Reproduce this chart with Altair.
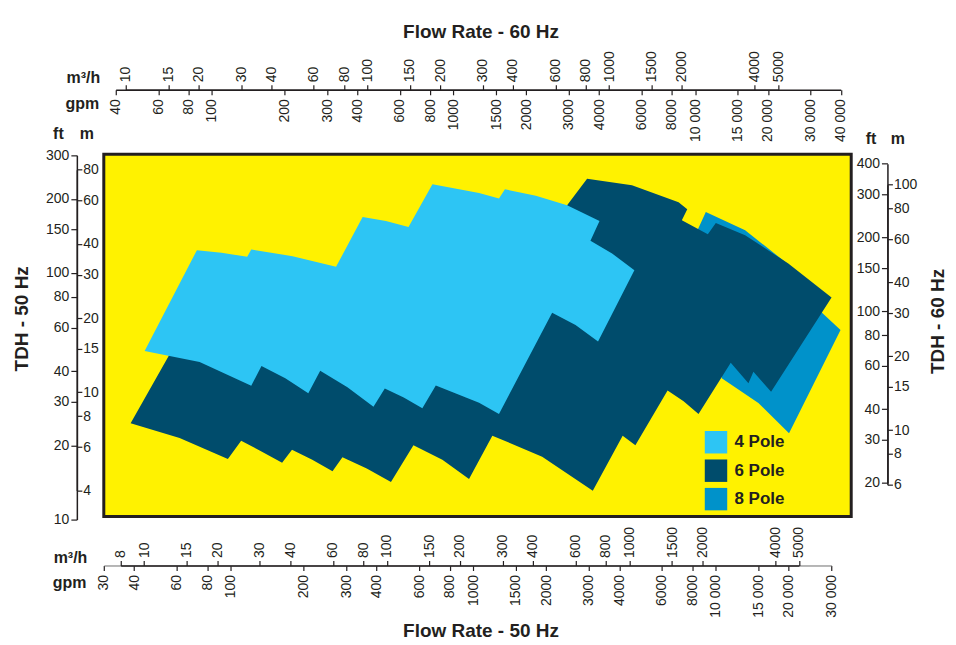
import altair as alt
import pandas as pd

# ---------------- data ----------------
# polygon outlines: flow in gpm (50 Hz) and head in ft (50 Hz)
pole4_gpm = [44.2, 72.6, 91.7, 117, 121.6, 180, 272, 350, 436.6, 541, 679, 1057, 1277, 1351,
             1812, 2438, 3316, 3043, 3736, 4617, 3270, 2641, 2115, 1277, 1057, 701, 617, 517,
             432, 388, 303, 234, 209, 168, 134, 121.6, 74.5]
pole4_ft = [48.3, 123.8, 120.9, 116.3, 124.6, 117, 105.9, 168.8, 162.6, 153.8, 228.9, 211, 200.4,
            218.6, 205.6, 188.2, 162.6, 135, 120, 102.7, 52.7, 61.5, 69, 26.8, 29.8, 35.0, 28.3,
            31.3, 34.0, 28.7, 34.4, 40.1, 32.5, 37.4, 42.0, 34.9, 43.6]

pole6_gpm = [38.7, 61.6, 97.4, 110.5, 134, 163, 179, 217, 263, 289, 364, 458, 567, 746, 961,
             1199, 1924, 3111, 4131, 4661, 6327, 7365, 8486, 11524, 13630, 14290, 16900, 30000,
             19900, 13210, 10000, 9271, 7245, 7627, 7023, 4512, 2947, 2438, 2673, 1696, 1057, 60.5]
pole6_ft = [24.6, 21.4, 17.6, 20.9, 18.9, 17.0, 19.2, 17.5, 15.7, 17.9, 16.1, 14.2, 20.0, 17.5,
            14.6, 21.9, 18.0, 13.1, 21.9, 20.0, 33.4, 30.2, 26.8, 43.3, 35.7, 39.8, 33.0, 79.6,
            109.3, 142.3, 159.6, 143.6, 163.7, 181.4, 193.6, 226.8, 241.4, 188.2, 138.4, 53.5,
            36.8, 53.5]

pole8_gpm = [9096, 13210, 19290, 27470, 32670, 20040, 14980, 10580, 10260, 8431]
pole8_ft = [176.8, 149.1, 111, 68.8, 58.7, 22.4, 29.7, 37.4, 77.6, 150.1]

pole_names = ["4 Pole", "6 Pole", "8 Pole"]
pole_colors = ["#2DC5F4", "#004C6C", "#0092CA"]

# axis tick values
gpm50_ticks = [30, 40, 60, 80, 100, 200, 300, 400, 600, 800, 1000, 1500, 2000, 3000, 4000,
               6000, 8000, 10000, 15000, 20000, 30000]
m3h50_ticks = [8, 10, 15, 20, 30, 40, 60, 80, 100, 150, 200, 300, 400, 600, 800, 1000, 1500,
               2000, 4000, 5000]
gpm60_ticks = [40, 60, 80, 100, 200, 300, 400, 600, 800, 1000, 1500, 2000, 3000, 4000, 6000,
               8000, 10000, 15000, 20000, 30000, 40000]
m3h60_ticks = [10, 15, 20, 30, 40, 60, 80, 100, 150, 200, 300, 400, 600, 800, 1000, 1500, 2000,
               4000, 5000]
ft50_ticks = [10, 20, 30, 40, 60, 80, 100, 150, 200, 300]
m50_ticks = [4, 6, 8, 10, 15, 20, 30, 40, 60, 80]
ft60_ticks = [20, 30, 40, 60, 80, 100, 150, 200, 300, 400]
m60_ticks = [6, 8, 10, 15, 20, 30, 40, 60, 80, 100]

# ---------------- build tables ----------------
rows = []
for name, gx, fy in [("8 Pole", pole8_gpm, pole8_ft),
                     ("6 Pole", pole6_gpm, pole6_ft),
                     ("4 Pole", pole4_gpm, pole4_ft)]:
    for i, (g, f) in enumerate(zip(gx, fy)):
        rows.append({"pole": name, "idx": i, "gpm": g, "ft": f})
poly_df = pd.DataFrame(rows)

W, H = 749, 363
INK = "#231F20"
FONT = "Liberation Sans"
LBL = "datum.value >= 10000 ? replace(format(datum.value, ','), ',', ' ') : format(datum.value, 'd')"


def ax(**kw):
    base = dict(labelFont=FONT, labelFontSize=14, labelColor=INK, tickColor=INK,
                tickWidth=1.2, domainColor=INK, domainWidth=1.5, grid=False,
                labelOverlap=False, labelFlush=False, labelBound=False, labelExpr=LBL,
                titleFont=FONT, titleFontWeight="bold", titleFontSize=16, titleColor=INK,
                titleAngle=0, titleBaseline="alphabetic")
    base.update(kw)
    return alt.Axis(**base)


def xaxis_bottom(**kw):
    return ax(orient="bottom", labelAngle=270, labelAlign="right", labelBaseline="middle",
              tickSize=5, labelPadding=4, titleAlign="right", **kw)


def xaxis_top(**kw):
    return ax(orient="top", labelAngle=270, labelAlign="left", labelBaseline="middle",
              tickSize=5, labelPadding=3, titleAlign="right", **kw)


# ---------------- polygons (main scales: gpm 50 Hz, ft 50 Hz) ----------------
x_main = alt.X("gpm:Q",
               scale=alt.Scale(type="log", domain=[30, 30000], range=[0, 729.3], nice=False),
               axis=xaxis_bottom(offset=49, values=gpm50_ticks, title="gpm", titleX=-18,
                                 titleY=22, domainColor="#6d6d6d", domainWidth=1))
y_main = alt.Y("ft:Q",
               scale=alt.Scale(type="log", domain=[10, 300], range=[366, 1], nice=False),
               axis=ax(orient="left", offset=27, values=ft50_ticks, tickSize=6, labelPadding=2,
                       title="ft", titleX=-19, titleY=-16, titleAlign="center"))
color = alt.Color("pole:N",
                  scale=alt.Scale(domain=pole_names, range=pole_colors),
                  legend=alt.Legend(orient="none", legendX=602, legendY=277, title=None,
                                    direction="vertical", symbolType="square", symbolSize=506,
                                    symbolStrokeWidth=0, symbolOpacity=1, labelFont=FONT,
                                    labelFontSize=17, labelFontWeight="bold", labelColor=INK,
                                    rowPadding=5.5, labelOffset=7, padding=0))

base = alt.Chart(poly_df).mark_line(filled=True, interpolate="linear").encode(
    x=x_main, y=y_main, color=color, order=alt.Order("idx:Q"))
polys = alt.layer(*[base.transform_filter(alt.datum.pole == n) for n in ["8 Pole", "6 Pole", "4 Pole"]])

# ---------------- extra axes ----------------
l1 = alt.Chart(pd.DataFrame({"m3h": [m3h50_ticks[0], m3h50_ticks[-1]],
                             "m": [m50_ticks[0], m50_ticks[-1]]})).mark_point(opacity=0).encode(
    x=alt.X("m3h:Q", scale=alt.Scale(type="log", domain=[8, 5000], range=[16.9, 696.6], nice=False),
            axis=xaxis_top(offset=-412, values=m3h50_ticks, title="m³/h", titleX=-17, titleY=-3)),
    y=alt.Y("m:Q", scale=alt.Scale(type="log", domain=[4, 80], range=[336.8, 15.3], nice=False),
            axis=ax(orient="right", offset=-(W + 27), values=m50_ticks, tickSize=5, labelPadding=1,
                    title="m", titleX=9.5, titleY=-16, titleAlign="center")))

l2 = alt.Chart(pd.DataFrame({"gpm60": [gpm60_ticks[0], gpm60_ticks[-1]],
                             "ft60": [ft60_ticks[0], ft60_ticks[-1]]})).mark_point(opacity=0).encode(
    x=alt.X("gpm60:Q", scale=alt.Scale(type="log", domain=[40, 40000], range=[11.9, 738.5], nice=False),
            axis=xaxis_bottom(offset=-(H + 64.7), values=gpm60_ticks, title="gpm", titleX=-5,
                              titleY=18.7)),
    y=alt.Y("ft60:Q", scale=alt.Scale(type="log", domain=[20, 400], range=[329.3, 9.3], nice=False),
            axis=ax(orient="left", offset=-785.3, values=ft60_ticks, tickSize=6, labelPadding=2,
                    title="ft", titleX=-17, titleY=-10.5, titleAlign="center")))

l3 = alt.Chart(pd.DataFrame({"m3h60": [m3h60_ticks[0], m3h60_ticks[-1]],
                             "m60": [m60_ticks[0], m60_ticks[-1]]})).mark_point(opacity=0).encode(
    x=alt.X("m3h60:Q", scale=alt.Scale(type="log", domain=[10, 5000], range=[22.0, 675.7], nice=False),
            axis=xaxis_top(offset=64.7, values=m3h60_ticks, title="m³/h", titleX=-4, titleY=-7.3)),
    y=alt.Y("m60:Q", scale=alt.Scale(type="log", domain=[6, 100], range=[331, 30.4], nice=False),
            axis=ax(orient="right", offset=785.3 - W, values=m60_ticks, tickSize=5, labelPadding=1,
                    title="m", titleX=10, titleY=-10.5, titleAlign="center")))

BIG = dict(domain=False, ticks=False, labels=False, grid=False, titleFont=FONT,
           titleFontWeight="bold", titleFontSize=19, titleColor=INK, titleAlign="center")

l4 = alt.Chart(pd.DataFrame({"u": [0, 1], "v": [0, 1]})).mark_point(opacity=0).encode(
    x=alt.X("u:Q", scale=alt.Scale(domain=[0, 1]),
            axis=alt.Axis(orient="bottom", offset=0, title="Flow Rate - 50 Hz", titleX=377.5,
                          titleY=120, titleAngle=0, titleBaseline="alphabetic", **BIG)),
    y=alt.Y("v:Q", scale=alt.Scale(domain=[0, 1]),
            axis=alt.Axis(orient="left", offset=0, title="TDH - 50 Hz", titleX=-82.3,
                          titleY=164.3, titleAngle=270, titleBaseline="middle", **BIG)))

l5 = alt.Chart(pd.DataFrame({"u": [0, 1], "v": [0, 1]})).mark_point(opacity=0).encode(
    x=alt.X("u:Q", scale=alt.Scale(domain=[0, 1]),
            axis=alt.Axis(orient="top", offset=0, title="Flow Rate - 60 Hz", titleX=377.5,
                          titleY=-117.5, titleAngle=0, titleBaseline="alphabetic", **BIG)),
    y=alt.Y("v:Q", scale=alt.Scale(domain=[0, 1]),
            axis=alt.Axis(orient="right", offset=0, title="TDH - 60 Hz", titleX=86.3,
                          titleY=167, titleAngle=270, titleBaseline="middle", **BIG)))

chart = alt.layer(polys, l1, l2, l3, l4, l5).resolve_scale(
    x="independent", y="independent"
).properties(
    width=W, height=H, padding={"left": 4, "top": 13, "right": 0, "bottom": 0}
).configure_view(
    fill="#FFF200", stroke=INK, strokeWidth=3
)

chart.save("out.html", embed_options={"renderer": "svg", "actions": False})
